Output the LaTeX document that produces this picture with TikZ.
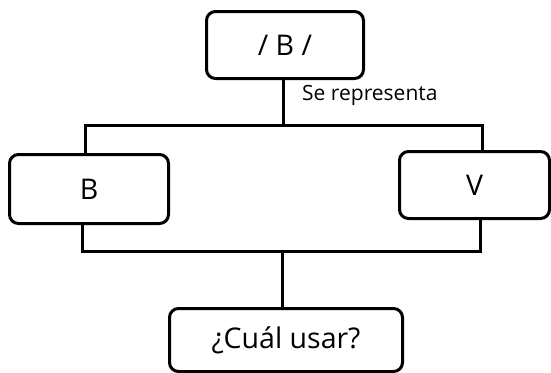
\documentclass[tikz,border=0pt]{standalone}
\usepackage{fontspec}
\setmainfont{Open Sans}
\begin{document}
\begin{tikzpicture}[x=1pt,y=-1pt,
  box/.style={draw=black,line width=3pt,rounded corners=9pt,fill=white,inner sep=0pt,anchor=north west},
  conn/.style={draw=black,line width=3pt},
  big/.style={font=\fontsize{28.5}{34}\selectfont},
  small/.style={font=\fontsize{21}{25}\selectfont}]
\useasboundingbox (0,0) rectangle (551,372);
\node[box,minimum width=157pt,minimum height=67pt,big] (top) at (205,10) {\raisebox{-5pt}{/ B /}};
\node[box,minimum width=159pt,minimum height=69pt,big] (b) at (8,153) {B};
\node[box,minimum width=150pt,minimum height=67pt,big] (v) at (398,150) {V};
\node[box,minimum width=233pt,minimum height=63pt,big] (q) at (168,307) {¿Cuál usar?};
\coordinate (tl) at (85,125);
\coordinate (tr) at (482,125);
\coordinate (tm) at (283,125);
\coordinate (bl) at (82,251);
\coordinate (br) at (480,251);
\coordinate (bm) at (282,251);
\draw[conn] (top.south -| tm) -- (tm);
\draw[conn,line cap=rect] (b.north -| tl) -- (tl) -- (tr) -- (v.north -| tr);
\draw[conn] (b.south -| bl) -- (bl) -- (br) -- (v.south -| br);
\draw[conn] (bm) -- (q.north -| bm);
\node[small,anchor=west,inner sep=0pt] (lab) at (302,95) {Se representa};
\end{tikzpicture}
\end{document}
